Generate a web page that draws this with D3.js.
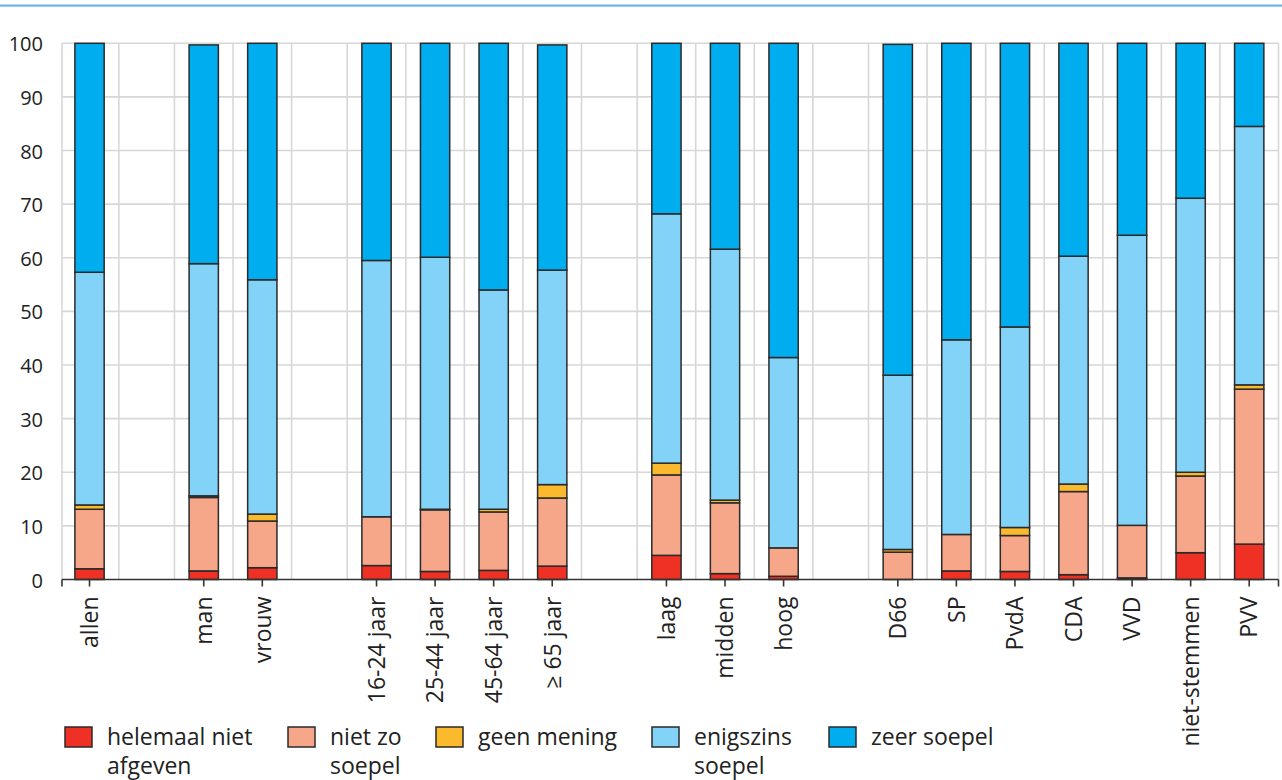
<!DOCTYPE html>
<html>
<head>
<meta charset="utf-8">
<script src="https://cdn.jsdelivr.net/npm/d3@7"></script>
<style>
  html, body { margin: 0; padding: 0; background: #fff; }
  svg { display: block; }
  text { font-family: "Open Sans", "Noto Sans", sans-serif; fill: #222; }
</style>
</head>
<body>
<svg id="chart" width="1282" height="780"></svg>
<script>
// ---- data ----
const categories = ["allen", "man", "vrouw", "16-24 jaar", "25-44 jaar", "45-64 jaar", "≥ 65 jaar",
  "laag", "midden", "hoog", "D66", "SP", "PvdA", "CDA", "VVD", "niet-stemmen", "PVV"];
const groupOf = [0, 1, 1, 2, 2, 2, 2, 3, 3, 3, 4, 4, 4, 4, 4, 4, 4];
const seriesNames = ["helemaal niet afgeven", "niet zo soepel", "geen mening", "enigszins soepel", "zeer soepel"];
const helemaalNiet = [2.0, 1.6, 2.2, 2.6, 1.5, 1.7, 2.5, 4.5, 1.1, 0.6, 0.0, 1.6, 1.5, 0.9, 0.3, 5.0, 6.6];
const nietZo       = [11.1, 13.7, 8.7, 9.1, 11.5, 10.9, 12.7, 15.0, 13.2, 5.3, 5.1, 6.8, 6.7, 15.5, 9.8, 14.3, 28.9];
const geenMening   = [0.8, 0.3, 1.3, 0.0, 0.1, 0.5, 2.5, 2.2, 0.5, 0.0, 0.5, 0.0, 1.5, 1.4, 0.0, 0.7, 0.8];
const enigszins    = [43.4, 43.3, 43.7, 47.8, 47.0, 40.9, 40.0, 46.5, 46.8, 35.5, 32.5, 36.3, 37.4, 42.5, 54.1, 51.1, 48.2];
const zeer         = [42.7, 40.8, 44.1, 40.5, 39.9, 46.0, 42.0, 31.8, 38.4, 58.6, 61.7, 55.3, 52.9, 39.7, 35.8, 28.9, 15.5];
const yTicks = [0, 10, 20, 30, 40, 50, 60, 70, 80, 90, 100];
const legendLines = [["helemaal niet", "afgeven"], ["niet zo", "soepel"], ["geen mening"], ["enigszins", "soepel"], ["zeer soepel"]];
const colors = ["#ee3124", "#f7a789", "#fbb92e", "#82d3f7", "#00adee"];

// ---- build ----
const svg = d3.select("#chart");
const mLeft = 62, mRight = 1278.5, mTop = 43.3, mBottom = 579.5;
const gapUnits = 0.95;      // width of the empty slot between groups, in bar-slot units
const barFrac = 0.5;        // bar width as fraction of a slot

// slot positions (in slot units) for each category
const pos = categories.map((c, i) => i + gapUnits * groupOf[i]);
const posOf = new Map(categories.map((c, i) => [c, pos[i]]));
const x = d3.scaleLinear().domain([-0.47, d3.max(pos) + 0.5]).range([mLeft, mRight]);
const slotW = x(1) - x(0);
const barW = slotW * barFrac;
const y = d3.scaleLinear().domain([0, 100]).range([mBottom, mTop]);

// top rule
svg.append("rect").attr("x", 0).attr("y", 4.5).attr("width", 1282).attr("height", 2.2).attr("fill", "#6db5e3");

// grid
const grid = svg.append("g");
grid.selectAll("line.h").data(yTicks.filter(d => d > 0)).join("line")
  .attr("x1", mLeft).attr("x2", mRight).attr("y1", d => y(d)).attr("y2", d => y(d))
  .attr("stroke", "#d7d7d7").attr("stroke-width", 1.6);
const vBounds = Array.from(new Set(pos.flatMap(p => [p - 0.5, p + 0.5]).map(v => +v.toFixed(3))));
const vXs = vBounds.map(v => Math.max(mLeft, x(v)));
grid.selectAll("line.v").data(vXs).join("line")
  .attr("x1", d => d).attr("x2", d => d)
  .attr("y1", mTop).attr("y2", mBottom)
  .attr("stroke", "#d7d7d7").attr("stroke-width", 1.6);

// stacked data
const table = categories.map((c, i) => ({
  cat: c,
  [seriesNames[0]]: helemaalNiet[i], [seriesNames[1]]: nietZo[i], [seriesNames[2]]: geenMening[i],
  [seriesNames[3]]: enigszins[i], [seriesNames[4]]: zeer[i]
}));
const stack = d3.stack().keys(seriesNames)(table);

const bars = svg.append("g");
stack.forEach((layer, si) => {
  bars.append("g").selectAll("rect").data(layer).join("rect")
    .attr("x", d => x(posOf.get(d.data.cat)) - barW / 2)
    .attr("width", barW)
    .attr("y", d => y(d[1]))
    .attr("height", d => Math.max(0, y(d[0]) - y(d[1])))
    .attr("fill", colors[si])
    .attr("stroke", "#2a2a2a")
    .attr("stroke-width", 1.5);
});

// x axis
const xAxis = svg.append("g");
xAxis.append("line").attr("x1", mLeft).attr("x2", mRight).attr("y1", mBottom).attr("y2", mBottom)
  .attr("stroke", "#333").attr("stroke-width", 1.6);
const tickXs = [mLeft, ...categories.map(c => x(posOf.get(c))), mRight];
xAxis.selectAll("line.t").data(tickXs).join("line")
  .attr("x1", d => d).attr("x2", d => d).attr("y1", mBottom).attr("y2", mBottom + 7)
  .attr("stroke", "#333").attr("stroke-width", 1.6);
xAxis.selectAll("text").data(categories).join("text")
  .attr("transform", c => `translate(${x(posOf.get(c))},${mBottom + 17}) rotate(-90)`)
  .attr("text-anchor", "end")
  .attr("dy", "0.36em")
  .style("font-size", "23px")
  .text(c => c);

// y axis labels
svg.append("g").selectAll("text").data(yTicks).join("text")
  .attr("x", 43).attr("y", d => y(d)).attr("dy", "0.4em")
  .attr("text-anchor", "end")
  .style("font-size", "20px")
  .text(d => d);

// legend
const legX = [65, 288, 436, 652, 829];
const lg = svg.append("g");
legendLines.forEach((lines, i) => {
  lg.append("rect").attr("x", legX[i]).attr("y", 727).attr("width", 27).attr("height", 20)
    .attr("fill", colors[i]).attr("stroke", "#2a2a2a").attr("stroke-width", 1.5);
  lines.forEach((ln, j) => {
    lg.append("text").attr("x", legX[i] + 42).attr("y", 745 + j * 28.5)
      .style("font-size", "23px").text(ln);
  });
});
</script>
</body>
</html>
